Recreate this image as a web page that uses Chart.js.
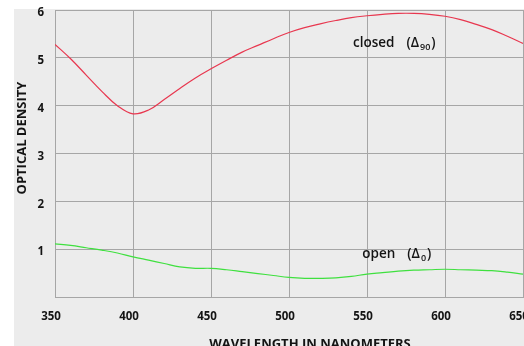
<!DOCTYPE html>
<html>
<head>
<meta charset="utf-8">
<script src="https://cdn.jsdelivr.net/npm/chart.js@4"></script>
<style>
  html, body { margin: 0; padding: 0; background: #ffffff; overflow: hidden; }
  #wrap { position: relative; width: 524px; height: 346px; }
  #panel { position: absolute; left: 14px; top: 9px; width: 510px; height: 337px; background: #ececec; }
  #c { position: absolute; left: 0; top: 0; }
</style>
</head>
<body>
<div id="wrap">
  <div id="panel"></div>
  <canvas id="c" width="524" height="346"></canvas>
</div>
<script>
// Wavelength samples (nm)
const wavelengths = [350, 360, 370, 380, 390, 400, 410, 420, 430, 440, 450, 460, 470, 480, 490, 500,
                     510, 520, 530, 540, 550, 560, 570, 580, 590, 600, 610, 620, 630, 640, 650];
// Optical density, closed state (Δ90)
const closedDensity = [5.28, 4.98, 4.64, 4.30, 4.00, 3.83, 3.91, 4.13, 4.36, 4.58, 4.77, 4.95, 5.12, 5.26, 5.40, 5.53,
                       5.63, 5.71, 5.78, 5.84, 5.88, 5.91, 5.93, 5.93, 5.91, 5.87, 5.80, 5.70, 5.59, 5.45, 5.30];
// Optical density, open state (Δ0)
const openDensity = [1.11, 1.08, 1.03, 0.98, 0.92, 0.84, 0.77, 0.70, 0.63, 0.60, 0.60, 0.57, 0.53, 0.49, 0.45, 0.41,
                     0.39, 0.39, 0.40, 0.43, 0.48, 0.51, 0.54, 0.56, 0.57, 0.58, 0.57, 0.56, 0.55, 0.52, 0.48];
// Axis ticks
const xTicks = [350, 400, 450, 500, 550, 600, 650];
const yTicks = [1, 2, 3, 4, 5, 6];

const FONT = '"Open Sans", "DejaVu Sans", sans-serif';
const GRID = '#a6a6a6';
const INK = '#141414';

function toPoints(xs, ys) { return xs.map((x, i) => ({ x: x, y: ys[i] })); }

// Curve captions and axis titles
const captionPlugin = {
  id: 'captions',
  afterDraw(chart) {
    const ctx = chart.ctx;
    const xs = chart.scales.x, ys = chart.scales.y;
    ctx.save();
    ctx.fillStyle = INK;
    ctx.textBaseline = 'alphabetic';

    function caption(word, sub, nm, od) {
      let px = xs.getPixelForValue(nm);
      const py = ys.getPixelForValue(od);
      ctx.font = '600 13.5px ' + FONT;
      ctx.textAlign = 'left';
      ctx.fillText(word, px, py);
      px += ctx.measureText(word).width + 12;
      ctx.fillText('(\u0394', px, py);
      px += ctx.measureText('(\u0394').width + 1;
      ctx.font = '600 9px ' + FONT;
      ctx.fillText(sub, px, py + 3);
      px += ctx.measureText(sub).width + 1;
      ctx.font = '600 13.5px ' + FONT;
      ctx.fillText(')', px, py);
    }
    caption('closed', '90', 541, 5.22);
    caption('open', '0', 547, 0.82);

    const area = chart.chartArea;
    ctx.font = 'bold 13px ' + FONT;
    ctx.textAlign = 'center';
    ctx.fillText('WAVELENGTH IN NANOMETERS', (area.left + area.right) / 2 + 21, 348);

    ctx.translate(22, 138);
    ctx.rotate(-Math.PI / 2);
    ctx.textBaseline = 'middle';
    ctx.fillText('OPTICAL DENSITY', 0, 0);
    ctx.restore();
  }
};

new Chart(document.getElementById('c'), {
  type: 'line',
  data: {
    datasets: [
      {
        label: 'closed (\u039490)',
        data: toPoints(wavelengths, closedDensity),
        borderColor: '#e8374f',
        borderWidth: 1.2,
        pointRadius: 0,
        tension: 0.4,
        fill: false
      },
      {
        label: 'open (\u03940)',
        data: toPoints(wavelengths, openDensity),
        borderColor: '#3fe03f',
        borderWidth: 1.2,
        pointRadius: 0,
        tension: 0.4,
        fill: false
      }
    ]
  },
  options: {
    responsive: false,
    devicePixelRatio: 1,
    animation: false,
    layout: { padding: { left: 0, right: 1, top: 10, bottom: 0 } },
    plugins: { legend: { display: false }, tooltip: { enabled: false } },
    scales: {
      x: {
        type: 'linear',
        min: 350,
        max: 650,
        afterBuildTicks(scale) { scale.ticks = xTicks.map(v => ({ value: v })); },
        afterFit(scale) { scale.height = 49; scale.paddingLeft = 0; scale.paddingRight = 0; },
        grid: { color: GRID, lineWidth: 1, drawTicks: false },
        border: { color: GRID, width: 1 },
        ticks: {
          color: INK,
          font: { family: FONT, size: 11.5, weight: 'bold' },
          padding: 13,
          labelOffset: -4,
          maxRotation: 0
        }
      },
      y: {
        type: 'linear',
        min: 0,
        max: 6,
        afterBuildTicks(scale) { scale.ticks = [0].concat(yTicks).map(v => ({ value: v })); },
        afterFit(scale) { scale.width = 55; scale.paddingTop = 0; scale.paddingBottom = 0; },
        grid: { color: GRID, lineWidth: 1, drawTicks: false },
        border: { color: GRID, width: 1 },
        ticks: {
          color: INK,
          font: { family: FONT, size: 11.5, weight: 'bold' },
          padding: 11,
          labelOffset: 3,
          callback: v => (v === 0 ? '' : String(v))
        }
      }
    }
  },
  plugins: [captionPlugin]
});
</script>
</body>
</html>
